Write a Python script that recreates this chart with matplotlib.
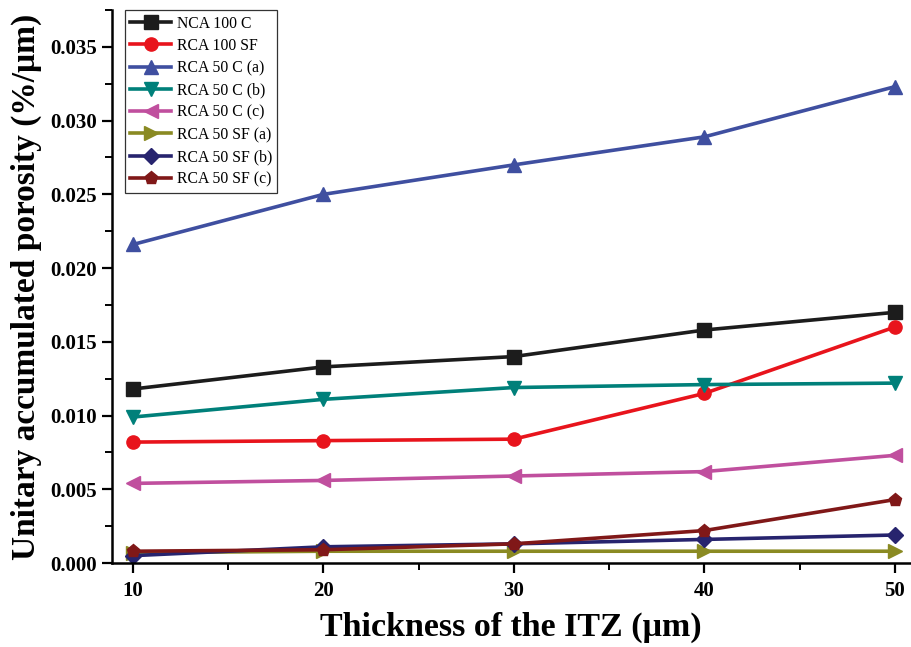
import matplotlib
matplotlib.use("Agg")
import matplotlib.pyplot as plt
from matplotlib.ticker import MultipleLocator, FormatStrFormatter

# thickness of the ITZ (um)
thickness = [10, 20, 30, 40, 50]

nca_100_c = [0.0118, 0.0133, 0.0140, 0.0158, 0.0170]
rca_100_sf = [0.0082, 0.0083, 0.0084, 0.0115, 0.0160]
rca_50_c_a = [0.0216, 0.0250, 0.0270, 0.0289, 0.0323]
rca_50_c_b = [0.0099, 0.0111, 0.0119, 0.0121, 0.0122]
rca_50_c_c = [0.0054, 0.0056, 0.0059, 0.0062, 0.0073]
rca_50_sf_a = [0.0007, 0.0008, 0.0008, 0.0008, 0.0008]
rca_50_sf_b = [0.0005, 0.0011, 0.0013, 0.0016, 0.0019]
rca_50_sf_c = [0.0008, 0.0009, 0.0013, 0.0022, 0.0043]

series = [
    ("NCA 100 C", nca_100_c, "#1c1c1c", "s"),
    ("RCA 100 SF", rca_100_sf, "#e8141c", "o"),
    ("RCA 50 C (a)", rca_50_c_a, "#3f4fa0", "^"),
    ("RCA 50 C (b)", rca_50_c_b, "#00807a", "v"),
    ("RCA 50 C (c)", rca_50_c_c, "#c04f9e", "<"),
    ("RCA 50 SF (a)", rca_50_sf_a, "#8a8a23", ">"),
    ("RCA 50 SF (b)", rca_50_sf_b, "#27246e", "D"),
    ("RCA 50 SF (c)", rca_50_sf_c, "#801818", "p"),
]

plt.rcParams['font.family'] = ['Liberation Serif', 'DejaVu Serif']

fig = plt.figure(figsize=(9.12, 6.47), dpi=100)
ax = fig.add_axes([0.1228, 0.1298, 0.875, 0.8547])

for label, vals, color, marker in series:
    ms = 8 if marker == "D" else 9.5
    ax.plot(thickness, vals, color=color, marker=marker, markersize=ms,
            linewidth=2.6, label=label)

ax.set_xlim(8.9, 50.8)
ax.set_ylim(0, 0.0375)
ax.xaxis.set_major_locator(MultipleLocator(10))
ax.xaxis.set_minor_locator(MultipleLocator(5))
ax.yaxis.set_major_locator(MultipleLocator(0.005))
ax.yaxis.set_minor_locator(MultipleLocator(0.0025))
ax.yaxis.set_major_formatter(FormatStrFormatter('%.3f'))

for side in ['top', 'right']:
    ax.spines[side].set_visible(False)
for side in ['left', 'bottom']:
    ax.spines[side].set_linewidth(1.8)
ax.tick_params(which='major', direction='out', length=7, width=1.6, labelsize=15, pad=4)
ax.tick_params(axis='x', which='major', pad=6)
ax.tick_params(which='minor', direction='out', length=5, width=1.4)
for t in ax.get_xticklabels() + ax.get_yticklabels():
    t.set_fontweight('bold')

ax.set_xlabel("Thickness of the ITZ (μm)", fontsize=24.5, fontweight='bold', labelpad=8)
ax.set_ylabel("Unitary accumulated porosity (%/μm)", fontsize=24, fontweight='bold', labelpad=6)

leg = ax.legend(loc='upper left', bbox_to_anchor=(0.016, 1.0), borderaxespad=0,
                fontsize=11.3, frameon=True, fancybox=False, handlelength=2.6,
                labelspacing=0.4, borderpad=0.35, handletextpad=0.35)
leg.get_frame().set_edgecolor('black')
leg.get_frame().set_linewidth(0.9)

fig.savefig("out.png", dpi=100)
